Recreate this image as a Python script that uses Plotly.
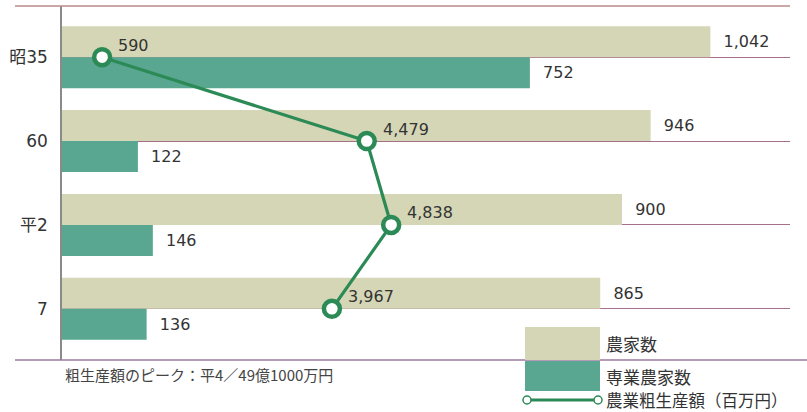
import plotly.graph_objects as go

categories = ["昭35", "60", "平2", "7"]
farm_households = [1042, 946, 900, 865]
fulltime_households = [752, 122, 146, 136]
gross_output = [590, 4479, 4838, 3967]

name_farm = "農家数"
name_full = "専業農家数"
name_output = "農業粗生産額（百万円）"
footnote = "粗生産額のピーク：平4／49億1000万円"

FONT = "Noto Sans CJK JP"
NUMFONT = "DejaVu Sans, Noto Sans CJK JP"
C_FARM = "#d5d6b6"
C_FULL = "#5aa791"
C_LINE = "#2b8a55"
C_TEXT = "#333333"
C_RULE = "#a7708a"

fig = go.Figure()
fig.add_trace(go.Bar(
    y=categories, x=farm_households, orientation="h", name=name_farm,
    marker=dict(color=C_FARM, line=dict(width=0)),
    text=[f"{v:,}" for v in farm_households], textposition="outside",
    texttemplate="  %{text}", cliponaxis=False,
    textfont=dict(size=16, color=C_TEXT, family=NUMFONT),
))
fig.add_trace(go.Bar(
    y=categories, x=fulltime_households, orientation="h", name=name_full,
    marker=dict(color=C_FULL, line=dict(width=0)),
    text=[f"{v:,}" for v in fulltime_households], textposition="outside",
    texttemplate="  %{text}", cliponaxis=False,
    textfont=dict(size=16, color=C_TEXT, family=NUMFONT),
))
fig.add_trace(go.Scatter(
    y=categories, x=gross_output, xaxis="x2", name=name_output,
    mode="lines+markers",
    line=dict(color=C_LINE, width=3.2),
    marker=dict(size=16, color="white", line=dict(color=C_LINE, width=4.5)),
    cliponaxis=False,
))

W, H = 807, 412
L, R, T, B = 62, 17, 6, 52
pw = W - L - R
ph = H - T - B

def px(x):
    return (x - L) / pw

def py(y):
    return (H - B - y) / ph

shapes = [
    dict(type="line", xref="paper", yref="paper", x0=px(15), x1=1.0, y0=1, y1=1,
         line=dict(color="#b88a8c", width=1.5)),
    dict(type="line", xref="paper", yref="paper", x0=px(15), x1=px(807), y0=0, y1=0,
         line=dict(color="#9a7aa0", width=1.5)),
    # legend swatches
    dict(type="rect", xref="paper", yref="paper", x0=px(525), x1=px(600), y0=py(360), y1=py(327),
         fillcolor=C_FARM, line=dict(width=0), layer="above"),
    dict(type="rect", xref="paper", yref="paper", x0=px(525), x1=px(600), y0=py(391), y1=py(361),
         fillcolor=C_FULL, line=dict(width=0), layer="above"),
    dict(type="line", xref="paper", yref="paper", x0=px(527), x1=px(598), y0=py(400), y1=py(400),
         line=dict(color=C_LINE, width=3)),
    dict(type="circle", xref="paper", yref="paper", x0=px(523), x1=px(531), y0=py(404), y1=py(396),
         fillcolor="white", line=dict(color=C_LINE, width=1.5)),
    dict(type="circle", xref="paper", yref="paper", x0=px(594), x1=px(602), y0=py(404), y1=py(396),
         fillcolor="white", line=dict(color=C_LINE, width=1.5)),
]

annotations = [
    dict(xref="paper", yref="paper", x=px(604), y=py(343), text=name_farm, showarrow=False,
         xanchor="left", yanchor="middle", font=dict(size=17, color=C_TEXT, family=FONT)),
    dict(xref="paper", yref="paper", x=px(604), y=py(376), text=name_full, showarrow=False,
         xanchor="left", yanchor="middle", font=dict(size=17, color=C_TEXT, family=FONT)),
    dict(xref="paper", yref="paper", x=px(604), y=py(400), text=name_output, showarrow=False,
         xanchor="left", yanchor="middle", font=dict(size=16.5, color=C_TEXT, family=FONT)),
    dict(xref="paper", yref="paper", x=px(63), y=py(375), text=footnote, showarrow=False,
         xanchor="left", yanchor="middle", font=dict(size=15, color="#444444", family=FONT)),
]
# value labels for the line, anchored to the data points (category index on y)
for i, v in enumerate(gross_output):
    annotations.append(dict(
        xref="x2", yref="y", x=v, y=i, text=f"{v:,}", showarrow=False,
        xanchor="left", yanchor="middle", xshift=14, yshift=12,
        font=dict(size=16, color=C_TEXT, family=NUMFONT),
    ))

fig.update_layout(
    width=W, height=H,
    margin=dict(l=L, r=R, t=T, b=B, pad=0, autoexpand=False),
    paper_bgcolor="white", plot_bgcolor="white",
    barmode="group", bargap=0.26, bargroupgap=0,
    showlegend=False,
    font=dict(family=FONT, color=C_TEXT),
    xaxis=dict(range=[0, 1170], showgrid=False, zeroline=False, showticklabels=False,
               showline=False, ticks=""),
    xaxis2=dict(range=[0, 10700], overlaying="x", side="top", showgrid=False,
                zeroline=False, showticklabels=False, showline=False, ticks=""),
    yaxis=dict(range=[3.61, -0.61], type="category", showgrid=True, gridcolor=C_RULE,
               gridwidth=1, showline=True, linecolor="#8a8a8a", linewidth=1.5,
               ticks="", ticklabelstandoff=9, automargin=False,
               tickfont=dict(size=17, color=C_TEXT, family=NUMFONT)),
    shapes=shapes,
    annotations=annotations,
)

fig.write_html("out.html", config={"displayModeBar": False},
               post_script="document.body.style.margin='0';document.body.style.overflow='hidden';")
